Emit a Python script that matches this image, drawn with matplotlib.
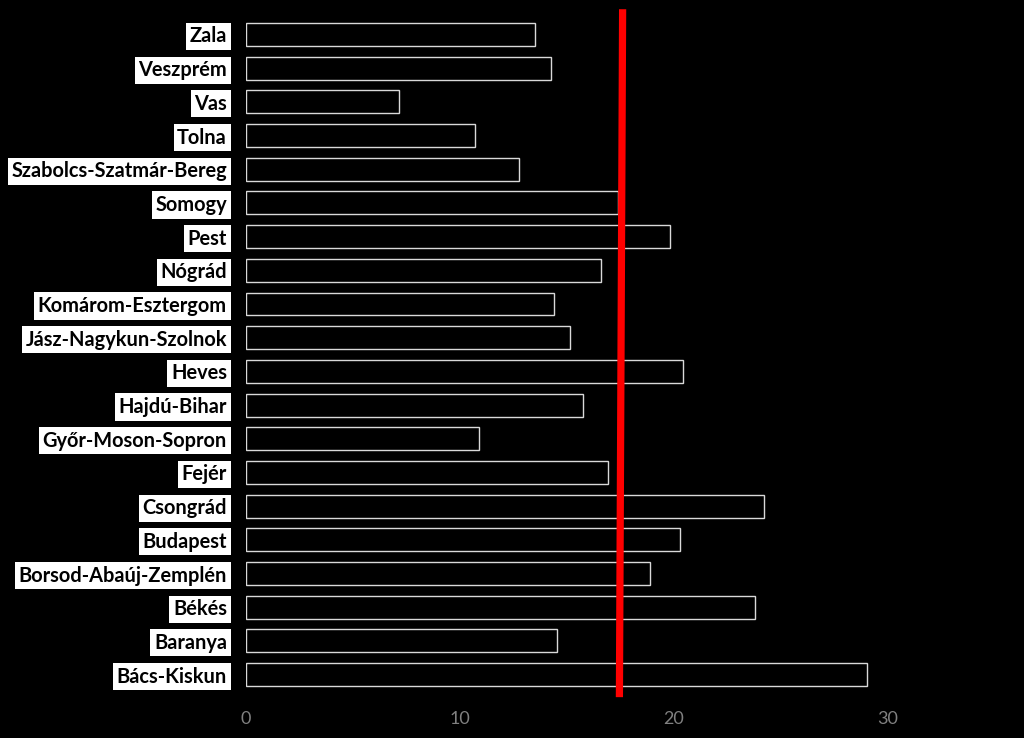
import numpy as np
import matplotlib.pyplot as plt

# ---------------- DATA ----------------
counties = ["Bács-Kiskun", "Baranya", "Békés", "Borsod-Abaúj-Zemplén", "Budapest",
            "Csongrád", "Fejér", "Győr-Moson-Sopron", "Hajdú-Bihar", "Heves",
            "Jász-Nagykun-Szolnok", "Komárom-Esztergom", "Nógrád", "Pest", "Somogy",
            "Szabolcs-Szatmár-Bereg", "Tolna", "Vas", "Veszprém", "Zala"]
values = [29.0, 14.55, 23.8, 18.9, 20.3,
          24.2, 16.9, 10.9, 15.75, 20.4,
          15.15, 14.4, 16.6, 19.8, 17.4,
          12.75, 10.7, 7.15, 14.25, 13.5]
avg_line_x = [17.45, 17.6]      # red reference line (bottom, top), slightly tilted
xticks = [0, 10, 20, 30]
# --------------------------------------

fig = plt.figure(figsize=(10.24, 7.38), dpi=100, facecolor="black")
ax = fig.add_axes([0.2402, 0.0631, 0.7461, 0.9130], facecolor="black")

y = np.arange(len(counties))
ax.barh(y, values, height=0.68, color="black", edgecolor="#d9d9d9", linewidth=1.0)

ax.set_xlim(0, 35.7)
ax.set_ylim(-0.5, 19.5)

# red average line, sticks out a bit past the plot area
ax.plot(avg_line_x, [-0.67, 19.75], color="#ff0000", linewidth=5.2,
        solid_capstyle="butt", clip_on=False, zorder=5)

ax.set_yticks(y)
ax.set_yticklabels(counties, fontfamily="Lato", fontweight="bold", fontsize=14.4,
                   color="black")
for lbl in ax.get_yticklabels():
    lbl.set_bbox(dict(facecolor="white", edgecolor="none", pad=2.6))
ax.tick_params(axis="y", length=0, pad=13.7)

ax.set_xticks(xticks)
ax.set_xticklabels([str(t) for t in xticks], fontfamily="Lato", fontsize=13,
                   color="#808080")
ax.tick_params(axis="x", length=0, pad=14)

for s in ax.spines.values():
    s.set_visible(False)

plt.savefig("out.png", dpi=100, facecolor="black")
